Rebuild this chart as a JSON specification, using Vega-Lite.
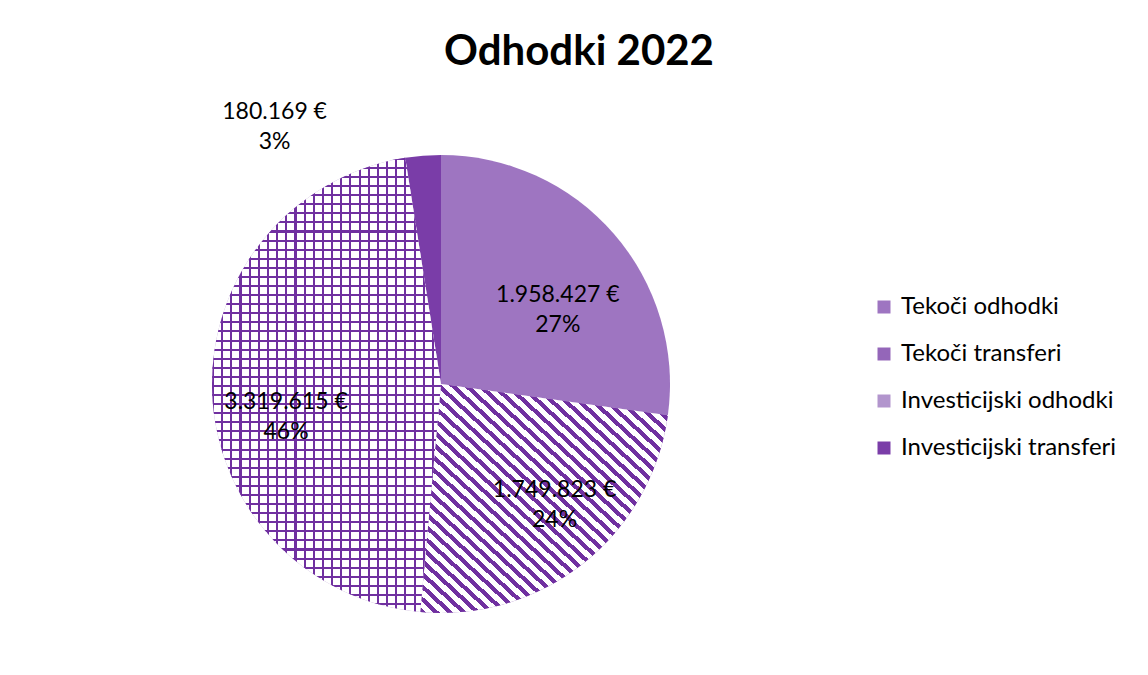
{
"$schema":"https://vega.github.io/schema/vega-lite/v6.json",
"autosize":"none",
"width":882,"height":582,
"padding":{"left":0,"top":93,"right":266,"bottom":0},
"background":"#ffffff",
"config":{"view":{"stroke":null}},
"title":{"text":"Odhodki 2022","font":"Lato","fontSize":42,"fontWeight":"bold","color":"#000000","anchor":"middle","frame":"group","dx":138,"dy":40,"offset":26,"baseline":"alphabetic"},
"data":{"values":[
{"cat":"Tekoči odhodki","value":1958427,"ord":1,"lbl":"1.958.427 €\n27%"},
{"cat":"Tekoči transferi","value":1749823,"ord":2,"lbl":"1.749.823 €\n24%"},
{"cat":"Investicijski odhodki","value":3319615,"ord":3,"lbl":"3.319.615 €\n46%"},
{"cat":"Investicijski transferi","value":180169,"ord":4,"lbl":"180.169 €\n3%"}
]},
"layer":[
{"mark":{"type":"arc","radius":229},
"encoding":{"theta":{"field":"value","type":"quantitative","stack":true},
"order":{"field":"ord","type":"quantitative"},
"color":{"field":"cat","type":"nominal","sort":null,
"scale":{"domain":["Tekoči odhodki","Tekoči transferi","Investicijski odhodki","Investicijski transferi"],"range":["#9e75c1","#9466b9","#b295cd","#7a3da8"]},
"legend":{"orient":"none","legendX":872,"legendY":202,"title":null,"symbolType":"square","symbolSize":169,"symbolStrokeWidth":0,"labelFont":"Lato","labelFontSize":24,"labelLimit":300,"labelColor":"#000000","rowPadding":23,"labelOffset":5,"padding":0}}}},
{"mark":{"type":"arc","radius":229,"fill":{"gradient":"linear","x1":0,"y1":1,"x2":1,"y2":0,"stops":[
{"offset":0,"color":"#7030a0"},{"offset":0.0125,"color":"#7030a0"},{"offset":0.0125,"color":"#ffffff"},{"offset":0.0278,"color":"#ffffff"},
{"offset":0.0278,"color":"#7030a0"},{"offset":0.0403,"color":"#7030a0"},{"offset":0.0403,"color":"#ffffff"},{"offset":0.0556,"color":"#ffffff"},
{"offset":0.0556,"color":"#7030a0"},{"offset":0.0681,"color":"#7030a0"},{"offset":0.0681,"color":"#ffffff"},{"offset":0.0833,"color":"#ffffff"},
{"offset":0.0833,"color":"#7030a0"},{"offset":0.0958,"color":"#7030a0"},{"offset":0.0958,"color":"#ffffff"},{"offset":0.1111,"color":"#ffffff"},
{"offset":0.1111,"color":"#7030a0"},{"offset":0.1236,"color":"#7030a0"},{"offset":0.1236,"color":"#ffffff"},{"offset":0.1389,"color":"#ffffff"},
{"offset":0.1389,"color":"#7030a0"},{"offset":0.1514,"color":"#7030a0"},{"offset":0.1514,"color":"#ffffff"},{"offset":0.1667,"color":"#ffffff"},
{"offset":0.1667,"color":"#7030a0"},{"offset":0.1792,"color":"#7030a0"},{"offset":0.1792,"color":"#ffffff"},{"offset":0.1944,"color":"#ffffff"},
{"offset":0.1944,"color":"#7030a0"},{"offset":0.2069,"color":"#7030a0"},{"offset":0.2069,"color":"#ffffff"},{"offset":0.2222,"color":"#ffffff"},
{"offset":0.2222,"color":"#7030a0"},{"offset":0.2347,"color":"#7030a0"},{"offset":0.2347,"color":"#ffffff"},{"offset":0.25,"color":"#ffffff"},
{"offset":0.25,"color":"#7030a0"},{"offset":0.2625,"color":"#7030a0"},{"offset":0.2625,"color":"#ffffff"},{"offset":0.2778,"color":"#ffffff"},
{"offset":0.2778,"color":"#7030a0"},{"offset":0.2903,"color":"#7030a0"},{"offset":0.2903,"color":"#ffffff"},{"offset":0.3056,"color":"#ffffff"},
{"offset":0.3056,"color":"#7030a0"},{"offset":0.3181,"color":"#7030a0"},{"offset":0.3181,"color":"#ffffff"},{"offset":0.3333,"color":"#ffffff"},
{"offset":0.3333,"color":"#7030a0"},{"offset":0.3458,"color":"#7030a0"},{"offset":0.3458,"color":"#ffffff"},{"offset":0.3611,"color":"#ffffff"},
{"offset":0.3611,"color":"#7030a0"},{"offset":0.3736,"color":"#7030a0"},{"offset":0.3736,"color":"#ffffff"},{"offset":0.3889,"color":"#ffffff"},
{"offset":0.3889,"color":"#7030a0"},{"offset":0.4014,"color":"#7030a0"},{"offset":0.4014,"color":"#ffffff"},{"offset":0.4167,"color":"#ffffff"},
{"offset":0.4167,"color":"#7030a0"},{"offset":0.4292,"color":"#7030a0"},{"offset":0.4292,"color":"#ffffff"},{"offset":0.4444,"color":"#ffffff"},
{"offset":0.4444,"color":"#7030a0"},{"offset":0.4569,"color":"#7030a0"},{"offset":0.4569,"color":"#ffffff"},{"offset":0.4722,"color":"#ffffff"},
{"offset":0.4722,"color":"#7030a0"},{"offset":0.4847,"color":"#7030a0"},{"offset":0.4847,"color":"#ffffff"},{"offset":0.5,"color":"#ffffff"},
{"offset":0.5,"color":"#7030a0"},{"offset":0.5125,"color":"#7030a0"},{"offset":0.5125,"color":"#ffffff"},{"offset":0.5278,"color":"#ffffff"},
{"offset":0.5278,"color":"#7030a0"},{"offset":0.5403,"color":"#7030a0"},{"offset":0.5403,"color":"#ffffff"},{"offset":0.5556,"color":"#ffffff"},
{"offset":0.5556,"color":"#7030a0"},{"offset":0.5681,"color":"#7030a0"},{"offset":0.5681,"color":"#ffffff"},{"offset":0.5833,"color":"#ffffff"},
{"offset":0.5833,"color":"#7030a0"},{"offset":0.5958,"color":"#7030a0"},{"offset":0.5958,"color":"#ffffff"},{"offset":0.6111,"color":"#ffffff"},
{"offset":0.6111,"color":"#7030a0"},{"offset":0.6236,"color":"#7030a0"},{"offset":0.6236,"color":"#ffffff"},{"offset":0.6389,"color":"#ffffff"},
{"offset":0.6389,"color":"#7030a0"},{"offset":0.6514,"color":"#7030a0"},{"offset":0.6514,"color":"#ffffff"},{"offset":0.6667,"color":"#ffffff"},
{"offset":0.6667,"color":"#7030a0"},{"offset":0.6792,"color":"#7030a0"},{"offset":0.6792,"color":"#ffffff"},{"offset":0.6944,"color":"#ffffff"},
{"offset":0.6944,"color":"#7030a0"},{"offset":0.7069,"color":"#7030a0"},{"offset":0.7069,"color":"#ffffff"},{"offset":0.7222,"color":"#ffffff"},
{"offset":0.7222,"color":"#7030a0"},{"offset":0.7347,"color":"#7030a0"},{"offset":0.7347,"color":"#ffffff"},{"offset":0.75,"color":"#ffffff"},
{"offset":0.75,"color":"#7030a0"},{"offset":0.7625,"color":"#7030a0"},{"offset":0.7625,"color":"#ffffff"},{"offset":0.7778,"color":"#ffffff"},
{"offset":0.7778,"color":"#7030a0"},{"offset":0.7903,"color":"#7030a0"},{"offset":0.7903,"color":"#ffffff"},{"offset":0.8056,"color":"#ffffff"},
{"offset":0.8056,"color":"#7030a0"},{"offset":0.8181,"color":"#7030a0"},{"offset":0.8181,"color":"#ffffff"},{"offset":0.8333,"color":"#ffffff"},
{"offset":0.8333,"color":"#7030a0"},{"offset":0.8458,"color":"#7030a0"},{"offset":0.8458,"color":"#ffffff"},{"offset":0.8611,"color":"#ffffff"},
{"offset":0.8611,"color":"#7030a0"},{"offset":0.8736,"color":"#7030a0"},{"offset":0.8736,"color":"#ffffff"},{"offset":0.8889,"color":"#ffffff"},
{"offset":0.8889,"color":"#7030a0"},{"offset":0.9014,"color":"#7030a0"},{"offset":0.9014,"color":"#ffffff"},{"offset":0.9167,"color":"#ffffff"},
{"offset":0.9167,"color":"#7030a0"},{"offset":0.9292,"color":"#7030a0"},{"offset":0.9292,"color":"#ffffff"},{"offset":0.9444,"color":"#ffffff"},
{"offset":0.9444,"color":"#7030a0"},{"offset":0.9569,"color":"#7030a0"},{"offset":0.9569,"color":"#ffffff"},{"offset":0.9722,"color":"#ffffff"},
{"offset":0.9722,"color":"#7030a0"},{"offset":0.9847,"color":"#7030a0"},{"offset":0.9847,"color":"#ffffff"},{"offset":1,"color":"#ffffff"}
]}},
"encoding":{"theta":{"field":"value","type":"quantitative","stack":true},
"order":{"field":"ord","type":"quantitative"},
"detail":{"field":"cat","type":"nominal"},
"fillOpacity":{"condition":{"test":"datum.ord === 2","value":1},"value":0}}},
{"mark":{"type":"arc","radius":229,"fill":{"gradient":"linear","x1":0,"y1":0,"x2":0,"y2":1,"stops":[
{"offset":0,"color":"#7030a0"},{"offset":0.0045,"color":"#7030a0"},{"offset":0.0045,"color":"#ffffff"},{"offset":0.02,"color":"#ffffff"},
{"offset":0.02,"color":"#7030a0"},{"offset":0.0245,"color":"#7030a0"},{"offset":0.0245,"color":"#ffffff"},{"offset":0.04,"color":"#ffffff"},
{"offset":0.04,"color":"#7030a0"},{"offset":0.0445,"color":"#7030a0"},{"offset":0.0445,"color":"#ffffff"},{"offset":0.06,"color":"#ffffff"},
{"offset":0.06,"color":"#7030a0"},{"offset":0.0645,"color":"#7030a0"},{"offset":0.0645,"color":"#ffffff"},{"offset":0.08,"color":"#ffffff"},
{"offset":0.08,"color":"#7030a0"},{"offset":0.0845,"color":"#7030a0"},{"offset":0.0845,"color":"#ffffff"},{"offset":0.1,"color":"#ffffff"},
{"offset":0.1,"color":"#7030a0"},{"offset":0.1045,"color":"#7030a0"},{"offset":0.1045,"color":"#ffffff"},{"offset":0.12,"color":"#ffffff"},
{"offset":0.12,"color":"#7030a0"},{"offset":0.1245,"color":"#7030a0"},{"offset":0.1245,"color":"#ffffff"},{"offset":0.14,"color":"#ffffff"},
{"offset":0.14,"color":"#7030a0"},{"offset":0.1445,"color":"#7030a0"},{"offset":0.1445,"color":"#ffffff"},{"offset":0.16,"color":"#ffffff"},
{"offset":0.16,"color":"#7030a0"},{"offset":0.1645,"color":"#7030a0"},{"offset":0.1645,"color":"#ffffff"},{"offset":0.18,"color":"#ffffff"},
{"offset":0.18,"color":"#7030a0"},{"offset":0.1845,"color":"#7030a0"},{"offset":0.1845,"color":"#ffffff"},{"offset":0.2,"color":"#ffffff"},
{"offset":0.2,"color":"#7030a0"},{"offset":0.2045,"color":"#7030a0"},{"offset":0.2045,"color":"#ffffff"},{"offset":0.22,"color":"#ffffff"},
{"offset":0.22,"color":"#7030a0"},{"offset":0.2245,"color":"#7030a0"},{"offset":0.2245,"color":"#ffffff"},{"offset":0.24,"color":"#ffffff"},
{"offset":0.24,"color":"#7030a0"},{"offset":0.2445,"color":"#7030a0"},{"offset":0.2445,"color":"#ffffff"},{"offset":0.26,"color":"#ffffff"},
{"offset":0.26,"color":"#7030a0"},{"offset":0.2645,"color":"#7030a0"},{"offset":0.2645,"color":"#ffffff"},{"offset":0.28,"color":"#ffffff"},
{"offset":0.28,"color":"#7030a0"},{"offset":0.2845,"color":"#7030a0"},{"offset":0.2845,"color":"#ffffff"},{"offset":0.3,"color":"#ffffff"},
{"offset":0.3,"color":"#7030a0"},{"offset":0.3045,"color":"#7030a0"},{"offset":0.3045,"color":"#ffffff"},{"offset":0.32,"color":"#ffffff"},
{"offset":0.32,"color":"#7030a0"},{"offset":0.3245,"color":"#7030a0"},{"offset":0.3245,"color":"#ffffff"},{"offset":0.34,"color":"#ffffff"},
{"offset":0.34,"color":"#7030a0"},{"offset":0.3445,"color":"#7030a0"},{"offset":0.3445,"color":"#ffffff"},{"offset":0.36,"color":"#ffffff"},
{"offset":0.36,"color":"#7030a0"},{"offset":0.3645,"color":"#7030a0"},{"offset":0.3645,"color":"#ffffff"},{"offset":0.38,"color":"#ffffff"},
{"offset":0.38,"color":"#7030a0"},{"offset":0.3845,"color":"#7030a0"},{"offset":0.3845,"color":"#ffffff"},{"offset":0.4,"color":"#ffffff"},
{"offset":0.4,"color":"#7030a0"},{"offset":0.4045,"color":"#7030a0"},{"offset":0.4045,"color":"#ffffff"},{"offset":0.42,"color":"#ffffff"},
{"offset":0.42,"color":"#7030a0"},{"offset":0.4245,"color":"#7030a0"},{"offset":0.4245,"color":"#ffffff"},{"offset":0.44,"color":"#ffffff"},
{"offset":0.44,"color":"#7030a0"},{"offset":0.4445,"color":"#7030a0"},{"offset":0.4445,"color":"#ffffff"},{"offset":0.46,"color":"#ffffff"},
{"offset":0.46,"color":"#7030a0"},{"offset":0.4645,"color":"#7030a0"},{"offset":0.4645,"color":"#ffffff"},{"offset":0.48,"color":"#ffffff"},
{"offset":0.48,"color":"#7030a0"},{"offset":0.4845,"color":"#7030a0"},{"offset":0.4845,"color":"#ffffff"},{"offset":0.5,"color":"#ffffff"},
{"offset":0.5,"color":"#7030a0"},{"offset":0.5045,"color":"#7030a0"},{"offset":0.5045,"color":"#ffffff"},{"offset":0.52,"color":"#ffffff"},
{"offset":0.52,"color":"#7030a0"},{"offset":0.5245,"color":"#7030a0"},{"offset":0.5245,"color":"#ffffff"},{"offset":0.54,"color":"#ffffff"},
{"offset":0.54,"color":"#7030a0"},{"offset":0.5445,"color":"#7030a0"},{"offset":0.5445,"color":"#ffffff"},{"offset":0.56,"color":"#ffffff"},
{"offset":0.56,"color":"#7030a0"},{"offset":0.5645,"color":"#7030a0"},{"offset":0.5645,"color":"#ffffff"},{"offset":0.58,"color":"#ffffff"},
{"offset":0.58,"color":"#7030a0"},{"offset":0.5845,"color":"#7030a0"},{"offset":0.5845,"color":"#ffffff"},{"offset":0.6,"color":"#ffffff"},
{"offset":0.6,"color":"#7030a0"},{"offset":0.6045,"color":"#7030a0"},{"offset":0.6045,"color":"#ffffff"},{"offset":0.62,"color":"#ffffff"},
{"offset":0.62,"color":"#7030a0"},{"offset":0.6245,"color":"#7030a0"},{"offset":0.6245,"color":"#ffffff"},{"offset":0.64,"color":"#ffffff"},
{"offset":0.64,"color":"#7030a0"},{"offset":0.6445,"color":"#7030a0"},{"offset":0.6445,"color":"#ffffff"},{"offset":0.66,"color":"#ffffff"},
{"offset":0.66,"color":"#7030a0"},{"offset":0.6645,"color":"#7030a0"},{"offset":0.6645,"color":"#ffffff"},{"offset":0.68,"color":"#ffffff"},
{"offset":0.68,"color":"#7030a0"},{"offset":0.6845,"color":"#7030a0"},{"offset":0.6845,"color":"#ffffff"},{"offset":0.7,"color":"#ffffff"},
{"offset":0.7,"color":"#7030a0"},{"offset":0.7045,"color":"#7030a0"},{"offset":0.7045,"color":"#ffffff"},{"offset":0.72,"color":"#ffffff"},
{"offset":0.72,"color":"#7030a0"},{"offset":0.7245,"color":"#7030a0"},{"offset":0.7245,"color":"#ffffff"},{"offset":0.74,"color":"#ffffff"},
{"offset":0.74,"color":"#7030a0"},{"offset":0.7445,"color":"#7030a0"},{"offset":0.7445,"color":"#ffffff"},{"offset":0.76,"color":"#ffffff"},
{"offset":0.76,"color":"#7030a0"},{"offset":0.7645,"color":"#7030a0"},{"offset":0.7645,"color":"#ffffff"},{"offset":0.78,"color":"#ffffff"},
{"offset":0.78,"color":"#7030a0"},{"offset":0.7845,"color":"#7030a0"},{"offset":0.7845,"color":"#ffffff"},{"offset":0.8,"color":"#ffffff"},
{"offset":0.8,"color":"#7030a0"},{"offset":0.8045,"color":"#7030a0"},{"offset":0.8045,"color":"#ffffff"},{"offset":0.82,"color":"#ffffff"},
{"offset":0.82,"color":"#7030a0"},{"offset":0.8245,"color":"#7030a0"},{"offset":0.8245,"color":"#ffffff"},{"offset":0.84,"color":"#ffffff"},
{"offset":0.84,"color":"#7030a0"},{"offset":0.8445,"color":"#7030a0"},{"offset":0.8445,"color":"#ffffff"},{"offset":0.86,"color":"#ffffff"},
{"offset":0.86,"color":"#7030a0"},{"offset":0.8645,"color":"#7030a0"},{"offset":0.8645,"color":"#ffffff"},{"offset":0.88,"color":"#ffffff"},
{"offset":0.88,"color":"#7030a0"},{"offset":0.8845,"color":"#7030a0"},{"offset":0.8845,"color":"#ffffff"},{"offset":0.9,"color":"#ffffff"},
{"offset":0.9,"color":"#7030a0"},{"offset":0.9045,"color":"#7030a0"},{"offset":0.9045,"color":"#ffffff"},{"offset":0.92,"color":"#ffffff"},
{"offset":0.92,"color":"#7030a0"},{"offset":0.9245,"color":"#7030a0"},{"offset":0.9245,"color":"#ffffff"},{"offset":0.94,"color":"#ffffff"},
{"offset":0.94,"color":"#7030a0"},{"offset":0.9445,"color":"#7030a0"},{"offset":0.9445,"color":"#ffffff"},{"offset":0.96,"color":"#ffffff"},
{"offset":0.96,"color":"#7030a0"},{"offset":0.9645,"color":"#7030a0"},{"offset":0.9645,"color":"#ffffff"},{"offset":0.98,"color":"#ffffff"},
{"offset":0.98,"color":"#7030a0"},{"offset":0.9845,"color":"#7030a0"},{"offset":0.9845,"color":"#ffffff"},{"offset":1,"color":"#ffffff"}
]}},
"encoding":{"theta":{"field":"value","type":"quantitative","stack":true},
"order":{"field":"ord","type":"quantitative"},
"detail":{"field":"cat","type":"nominal"},
"fillOpacity":{"condition":{"test":"datum.ord === 3","value":1},"value":0}}},
{"mark":{"type":"arc","radius":229,"fill":{"gradient":"linear","x1":0,"y1":0,"x2":1,"y2":0,"stops":[
{"offset":0,"color":"#7030a0"},{"offset":0.009,"color":"#7030a0"},{"offset":0.009,"color":"rgba(112,48,160,0)"},{"offset":0.04,"color":"rgba(112,48,160,0)"},
{"offset":0.04,"color":"#7030a0"},{"offset":0.049,"color":"#7030a0"},{"offset":0.049,"color":"rgba(112,48,160,0)"},{"offset":0.08,"color":"rgba(112,48,160,0)"},
{"offset":0.08,"color":"#7030a0"},{"offset":0.089,"color":"#7030a0"},{"offset":0.089,"color":"rgba(112,48,160,0)"},{"offset":0.12,"color":"rgba(112,48,160,0)"},
{"offset":0.12,"color":"#7030a0"},{"offset":0.129,"color":"#7030a0"},{"offset":0.129,"color":"rgba(112,48,160,0)"},{"offset":0.16,"color":"rgba(112,48,160,0)"},
{"offset":0.16,"color":"#7030a0"},{"offset":0.169,"color":"#7030a0"},{"offset":0.169,"color":"rgba(112,48,160,0)"},{"offset":0.2,"color":"rgba(112,48,160,0)"},
{"offset":0.2,"color":"#7030a0"},{"offset":0.209,"color":"#7030a0"},{"offset":0.209,"color":"rgba(112,48,160,0)"},{"offset":0.24,"color":"rgba(112,48,160,0)"},
{"offset":0.24,"color":"#7030a0"},{"offset":0.249,"color":"#7030a0"},{"offset":0.249,"color":"rgba(112,48,160,0)"},{"offset":0.28,"color":"rgba(112,48,160,0)"},
{"offset":0.28,"color":"#7030a0"},{"offset":0.289,"color":"#7030a0"},{"offset":0.289,"color":"rgba(112,48,160,0)"},{"offset":0.32,"color":"rgba(112,48,160,0)"},
{"offset":0.32,"color":"#7030a0"},{"offset":0.329,"color":"#7030a0"},{"offset":0.329,"color":"rgba(112,48,160,0)"},{"offset":0.36,"color":"rgba(112,48,160,0)"},
{"offset":0.36,"color":"#7030a0"},{"offset":0.369,"color":"#7030a0"},{"offset":0.369,"color":"rgba(112,48,160,0)"},{"offset":0.4,"color":"rgba(112,48,160,0)"},
{"offset":0.4,"color":"#7030a0"},{"offset":0.409,"color":"#7030a0"},{"offset":0.409,"color":"rgba(112,48,160,0)"},{"offset":0.44,"color":"rgba(112,48,160,0)"},
{"offset":0.44,"color":"#7030a0"},{"offset":0.449,"color":"#7030a0"},{"offset":0.449,"color":"rgba(112,48,160,0)"},{"offset":0.48,"color":"rgba(112,48,160,0)"},
{"offset":0.48,"color":"#7030a0"},{"offset":0.489,"color":"#7030a0"},{"offset":0.489,"color":"rgba(112,48,160,0)"},{"offset":0.52,"color":"rgba(112,48,160,0)"},
{"offset":0.52,"color":"#7030a0"},{"offset":0.529,"color":"#7030a0"},{"offset":0.529,"color":"rgba(112,48,160,0)"},{"offset":0.56,"color":"rgba(112,48,160,0)"},
{"offset":0.56,"color":"#7030a0"},{"offset":0.569,"color":"#7030a0"},{"offset":0.569,"color":"rgba(112,48,160,0)"},{"offset":0.6,"color":"rgba(112,48,160,0)"},
{"offset":0.6,"color":"#7030a0"},{"offset":0.609,"color":"#7030a0"},{"offset":0.609,"color":"rgba(112,48,160,0)"},{"offset":0.64,"color":"rgba(112,48,160,0)"},
{"offset":0.64,"color":"#7030a0"},{"offset":0.649,"color":"#7030a0"},{"offset":0.649,"color":"rgba(112,48,160,0)"},{"offset":0.68,"color":"rgba(112,48,160,0)"},
{"offset":0.68,"color":"#7030a0"},{"offset":0.689,"color":"#7030a0"},{"offset":0.689,"color":"rgba(112,48,160,0)"},{"offset":0.72,"color":"rgba(112,48,160,0)"},
{"offset":0.72,"color":"#7030a0"},{"offset":0.729,"color":"#7030a0"},{"offset":0.729,"color":"rgba(112,48,160,0)"},{"offset":0.76,"color":"rgba(112,48,160,0)"},
{"offset":0.76,"color":"#7030a0"},{"offset":0.769,"color":"#7030a0"},{"offset":0.769,"color":"rgba(112,48,160,0)"},{"offset":0.8,"color":"rgba(112,48,160,0)"},
{"offset":0.8,"color":"#7030a0"},{"offset":0.809,"color":"#7030a0"},{"offset":0.809,"color":"rgba(112,48,160,0)"},{"offset":0.84,"color":"rgba(112,48,160,0)"},
{"offset":0.84,"color":"#7030a0"},{"offset":0.849,"color":"#7030a0"},{"offset":0.849,"color":"rgba(112,48,160,0)"},{"offset":0.88,"color":"rgba(112,48,160,0)"},
{"offset":0.88,"color":"#7030a0"},{"offset":0.889,"color":"#7030a0"},{"offset":0.889,"color":"rgba(112,48,160,0)"},{"offset":0.92,"color":"rgba(112,48,160,0)"},
{"offset":0.92,"color":"#7030a0"},{"offset":0.929,"color":"#7030a0"},{"offset":0.929,"color":"rgba(112,48,160,0)"},{"offset":0.96,"color":"rgba(112,48,160,0)"},
{"offset":0.96,"color":"#7030a0"},{"offset":0.969,"color":"#7030a0"},{"offset":0.969,"color":"rgba(112,48,160,0)"},{"offset":1,"color":"rgba(112,48,160,0)"}
]}},
"encoding":{"theta":{"field":"value","type":"quantitative","stack":true},
"order":{"field":"ord","type":"quantitative"},
"detail":{"field":"cat","type":"nominal"},
"fillOpacity":{"condition":{"test":"datum.ord === 3","value":1},"value":0}}},
{"mark":{"type":"text","radius":155,"dy":13,"font":"Lato","fontSize":23,"lineBreak":"\n","lineHeight":30,"color":"#000000","align":"center","baseline":"middle"},
"encoding":{"theta":{"field":"value","type":"quantitative","stack":true},
"order":{"field":"ord","type":"quantitative"},
"detail":{"field":"cat","type":"nominal"},
"text":{"field":"lbl","type":"nominal"},
"opacity":{"condition":{"test":"datum.ord === 1 || datum.ord === 3","value":1},"value":0}}},
{"mark":{"type":"text","radius":160,"dx":14,"dy":-19,"font":"Lato","fontSize":23,"lineBreak":"\n","lineHeight":30,"color":"#000000","align":"center","baseline":"middle"},
"encoding":{"theta":{"field":"value","type":"quantitative","stack":true},
"order":{"field":"ord","type":"quantitative"},
"detail":{"field":"cat","type":"nominal"},
"text":{"field":"lbl","type":"nominal"},
"opacity":{"condition":{"test":"datum.ord === 2","value":1},"value":0}}},
{"mark":{"type":"text","radius":260,"dx":-146,"dy":-13,"font":"Lato","fontSize":23,"lineBreak":"\n","lineHeight":30,"color":"#000000","align":"center","baseline":"middle"},
"encoding":{"theta":{"field":"value","type":"quantitative","stack":true},
"order":{"field":"ord","type":"quantitative"},
"detail":{"field":"cat","type":"nominal"},
"text":{"field":"lbl","type":"nominal"},
"opacity":{"condition":{"test":"datum.ord === 4","value":1},"value":0}}}
]
}
